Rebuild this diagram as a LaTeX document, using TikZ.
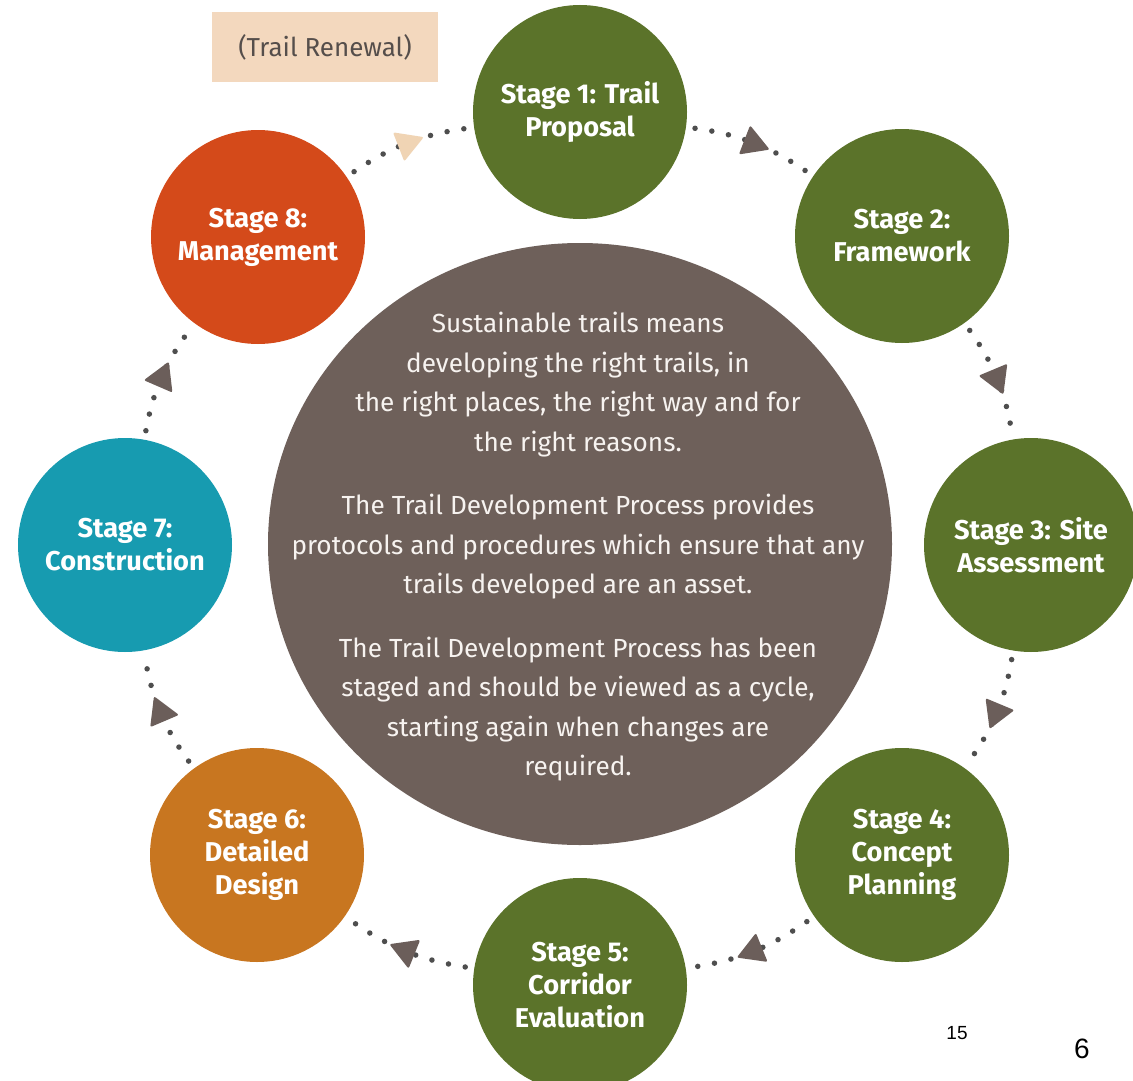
\documentclass[tikz,border=0pt]{standalone}
\usepackage{fontspec}
\setmainfont{Fira Sans}
\newfontfamily\pnfont{Liberation Sans}
\usetikzlibrary{shapes.geometric,decorations.markings}
\definecolor{stgreen}{RGB}{91,115,42}
\definecolor{stred}{RGB}{212,74,26}
\definecolor{stteal}{RGB}{23,155,176}
\definecolor{storange}{RGB}{200,118,32}
\definecolor{centre}{RGB}{110,96,90}
\definecolor{trigrey}{RGB}{107,94,90}
\definecolor{dotgrey}{RGB}{78,78,78}
\definecolor{peach}{RGB}{243,216,190}
\definecolor{peachtri}{RGB}{240,212,180}
\definecolor{boxtext}{RGB}{85,78,75}
\begin{document}
\begin{tikzpicture}[x=1pt,y=-1pt,
  stagenode/.style={circle, minimum size=214pt, inner sep=0pt, align=center,
    text=white, font=\fontsize{27.2}{33}\selectfont\bfseries},
  ring/.style={line width=5.5pt, line cap=round, dash pattern=on 0pt off 17pt,
    draw=dotgrey, shorten <=9pt, shorten >=9pt},
  tri/.style={postaction={decorate, decoration={markings,
    mark=at position 0.5 with {\fill[#1, rounded corners=2pt]
      (18pt,0pt) -- (-9pt,15.6pt) -- (-9pt,-15.6pt) -- cycle;}}}},
]
\useasboundingbox (0,0) rectangle (1133,1081);
\fill[white] (0,0) rectangle (1133,1081);

\node[ellipse, fill=centre, minimum width=624pt, minimum height=602pt, inner sep=0pt] (c) at (580,544) {};
\node[text={rgb,255:red,247;green,243;blue,240}, align=center, font=\fontsize{26.2}{39.5}\selectfont] (ct) at (578,547)
  {Sustainable trails means\\developing the right trails, in\\the right places, the right way and for\\the right reasons.\\[24pt]
   The Trail Development Process provides\\protocols and procedures which ensure that any\\trails developed are an asset.\\[24pt]
   The Trail Development Process has been\\staged and should be viewed as a cycle,\\starting again when changes are\\required.};

\node[stagenode, fill=stgreen] (s1) at (580,112) {Stage 1: Trail\\Proposal};
\node[stagenode, fill=stgreen] (s2) at (902,236) {Stage 2:\\Framework};
\node[stagenode, fill=stgreen] (s3) at (1031,545) {Stage 3: Site\\Assessment};
\node[stagenode, fill=stgreen] (s4) at (902,855) {Stage 4:\\Concept\\Planning};
\node[stagenode, fill=stgreen] (s5) at (580,985) {Stage 5:\\Corridor\\Evaluation};
\node[stagenode, fill=storange] (s6) at (257,855) {Stage 6:\\Detailed\\Design};
\node[stagenode, fill=stteal] (s7) at (125,545) {Stage 7:\\Construction};
\node[stagenode, fill=stred] (s8) at (258,237) {Stage 8:\\Management};

\node[fill=peach, minimum width=226pt, minimum height=70pt, text=boxtext,
  font=\fontsize{26}{26}\selectfont] (tr) at (325,47) {(Trail Renewal)};

\draw[ring, tri=trigrey] (s1) to[bend left=13] (s2);
\draw[ring, tri=trigrey] (s2) to[bend left=13] (s3);
\draw[ring, tri=trigrey] (s3) to[bend left=13] (s4);
\draw[ring, tri=trigrey] (s4) to[bend left=13] (s5);
\draw[ring, tri=trigrey] (s5) to[bend left=13] (s6);
\draw[ring, tri=trigrey] (s6) to[bend left=13] (s7);
\draw[ring, tri=trigrey] (s7) to[bend left=13] (s8);
\draw[ring, tri=peachtri] (s8) to[bend left=13] (s1);

\node[font=\pnfont\fontsize{19}{19}\selectfont] (p15) at (957,1033) {15};
\node[font=\pnfont\fontsize{28}{28}\selectfont] (p6) at (1082,1049) {6};
\end{tikzpicture}
\end{document}
